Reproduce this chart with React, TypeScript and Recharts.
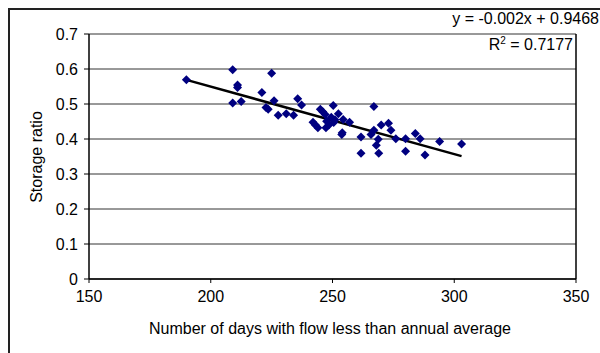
import React from 'react';
import {
  ScatterChart,
  Scatter,
  XAxis,
  YAxis,
  CartesianGrid,
  ReferenceLine,
  Label
} from 'recharts';

// days per year with flow below the annual average
const daysBelowAverage = [
  190, 209, 211, 211, 209, 212.5, 225, 221, 226, 222.7, 223.6, 227.7, 231, 234, 235.7, 237.3,
  242, 244, 245, 246, 247, 250.3, 247.6, 247.3, 252.4, 254.4, 257, 254, 253.8, 267, 261.7,
  261.7, 265.8, 267, 268.8, 268, 269, 270, 273, 274, 276, 280, 280, 284, 286, 288, 294, 303,
  248.5, 249.5, 250.5, 243, 251
];

const storageRatio = [
  0.569, 0.598, 0.554, 0.547, 0.503, 0.507, 0.588, 0.533, 0.509, 0.49, 0.485, 0.468, 0.472, 0.468,
  0.515, 0.497, 0.448, 0.432, 0.485, 0.478, 0.47, 0.496, 0.451, 0.432, 0.472, 0.456, 0.448, 0.418,
  0.413, 0.493, 0.406, 0.359, 0.413, 0.425, 0.399, 0.382, 0.359, 0.44, 0.445, 0.425, 0.401, 0.401,
  0.365, 0.416, 0.401, 0.354, 0.393, 0.386, 0.44, 0.462, 0.447, 0.44, 0.455
];

// linear fit endpoints (as drawn)
const trendX = [190, 303];
const trendY = [0.569, 0.351];

const xTicks = [150, 200, 250, 300, 350];
const yTicks = [0, 0.1, 0.2, 0.3, 0.4, 0.5, 0.6, 0.7];

const equationText = 'y = -0.002x + 0.9468';
const rSquaredValue = '0.7177';

const points = daysBelowAverage.map((d, i) => ({ days: d, ratio: storageRatio[i] }));

const FONT = 'Liberation Sans, Arial, sans-serif';

const Diamond = (props: any) => {
  const { cx, cy } = props;
  const r = 4.5;
  return (
    <polygon
      points={`${cx},${cy - r} ${cx + r},${cy} ${cx},${cy + r} ${cx - r},${cy}`}
      fill="#000080"
    />
  );
};

export default function App() {
  return (
    <div style={{ position: 'relative', width: 600, height: 353, overflow: 'hidden', fontFamily: FONT }}>
      <style>{'body{margin:0;overflow:hidden}'}</style>
      <div
        style={{
          position: 'absolute',
          left: 8,
          top: 8,
          width: 600,
          height: 353,
          borderTop: '2px solid #222',
          borderLeft: '2px solid #222'
        }}
      />
      <ScatterChart
        width={600}
        height={353}
        margin={{ top: 34, right: 24, bottom: 14, left: 29 }}
        style={{ position: 'absolute', left: 0, top: 0 }}
      >
        <CartesianGrid horizontal vertical={false} stroke="#333" strokeWidth={1} />
        <XAxis
          type="number"
          dataKey="days"
          domain={[150, 350]}
          ticks={xTicks}
          tickSize={4}
          tickMargin={8}
          height={60}
          allowDataOverflow
          axisLine={{ stroke: '#000', strokeWidth: 1.5 }}
          tickLine={{ stroke: '#000' }}
          tick={{ fill: '#000', fontSize: 16, fontFamily: FONT }}
        >
          <Label
            content={() => (
              <text x={330} y={334} textAnchor="middle" fill="#000" fontSize={16} fontFamily={FONT}>
                Number of days with flow less than annual average
              </text>
            )}
          />
        </XAxis>
        <YAxis
          type="number"
          dataKey="ratio"
          domain={[0, 0.7]}
          ticks={yTicks}
          tickSize={5}
          tickMargin={6}
          width={60}
          allowDataOverflow
          tickFormatter={(v: number) => String(Number(v.toFixed(1)))}
          axisLine={{ stroke: '#000', strokeWidth: 1.5 }}
          tickLine={{ stroke: '#000' }}
          tick={{ fill: '#000', fontSize: 16, fontFamily: FONT }}
        >
          <Label
            content={() => (
              <text
                x={42}
                y={157}
                textAnchor="middle"
                fill="#000"
                fontSize={16}
                fontFamily={FONT}
                transform="rotate(-90 42 157)"
              >
                Storage ratio
              </text>
            )}
          />
        </YAxis>
        <ReferenceLine x={350} stroke="#000" strokeWidth={1.5} />
        <Scatter data={points} shape={Diamond} isAnimationActive={false} />
        <ReferenceLine
          segment={[
            { x: trendX[0], y: trendY[0] },
            { x: trendX[1], y: trendY[1] }
          ]}
          stroke="#000"
          strokeWidth={2.5}
        />
      </ScatterChart>
      <div
        style={{
          position: 'absolute',
          right: 1,
          top: 10,
          fontSize: 16,
          color: '#000',
          whiteSpace: 'nowrap'
        }}
      >
        {equationText}
      </div>
      <div
        style={{
          position: 'absolute',
          right: 27,
          top: 35,
          fontSize: 16,
          color: '#000',
          whiteSpace: 'nowrap'
        }}
      >
        R<sup style={{ fontSize: 10, verticalAlign: 6 }}>2</sup> = {rSquaredValue}
      </div>
    </div>
  );
}
